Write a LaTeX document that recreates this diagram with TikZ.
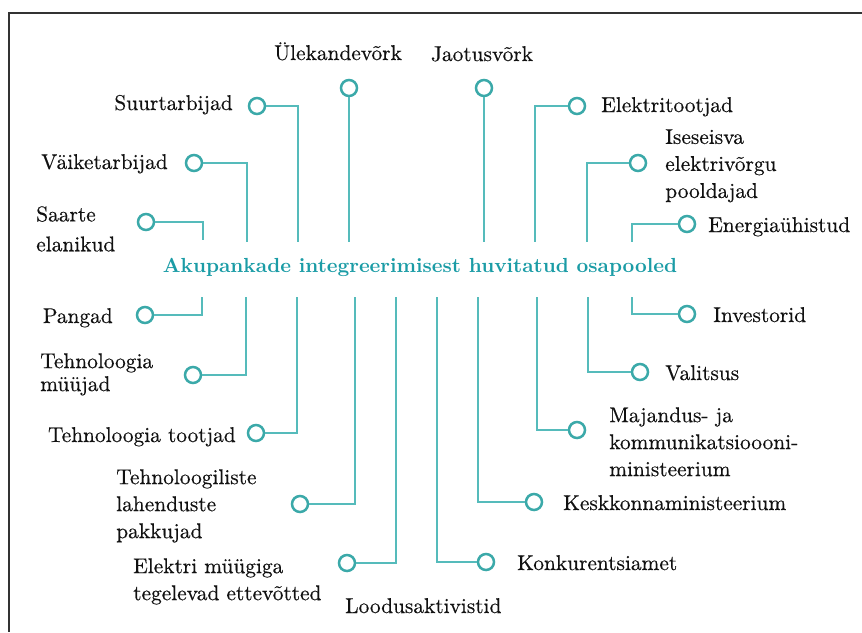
\documentclass[tikz,border=0pt]{standalone}
\usepackage{fontspec}
\setmainfont{lmroman10}[Extension=.otf, UprightFont=*-regular, BoldFont=*-bold, UprightFeatures={FakeBold=0.4}]
\definecolor{tealline}{HTML}{55BBBB}
\definecolor{tealring}{HTML}{3BA9A9}
\definecolor{tealtitle}{HTML}{1B9CA6}
\definecolor{partytext}{HTML}{111111}

\begin{document}
\begin{tikzpicture}[x=0.025cm, y=-0.025cm]
\tikzstyle{ring}=[circle, draw=tealring, line width=1.8pt, fill=white, minimum size=0.4cm, inner sep=0]
\tikzstyle{party}=[inner sep=0, text=partytext, font=\fontsize{15.2}{19.2}\selectfont]
\tikzstyle{link}=[draw=tealline, line width=1.5pt]
\tikzstyle{elbow}=[link, to path={-| (\tikztotarget)}]
%
\useasboundingbox (0,0) rectangle (862,632);
\draw [line width=1.3pt, black!80] (862,13) -- (9,13) -- (9,632);

\node [party, anchor=base, text=tealtitle, font=\fontsize{14.5}{19.2}\selectfont\bfseries] (title) at (420,272)
	{Akupankade integreerimisest huvitatud osapooled};

% ends of the connectors at the title
\coordinate (suurEnd) at (298,242);
\coordinate (vaikeEnd) at (247,242);
\coordinate (saarteEnd) at (203,240);
\coordinate (ulekEnd) at (349,242);
\coordinate (jaotusEnd) at (484,242);
\coordinate (tootjadEnd) at (535,242);
\coordinate (iseseisevEnd) at (587,242);
\coordinate (energiaEnd) at (632,242);
\coordinate (pangadEnd) at (202,297);
\coordinate (myyjadEnd) at (246,297);
\coordinate (tehTootjadEnd) at (297,297);
\coordinate (lahendusEnd) at (355,297);
\coordinate (myykEnd) at (396,297);
\coordinate (investEnd) at (632,297);
\coordinate (valitsusEnd) at (588,297);
\coordinate (majandusEnd) at (537,297);
\coordinate (keskkondEnd) at (478,297);
\coordinate (konkurentsEnd) at (437,297);

% upper half
\node [ring] (suur) at (257,106) {}
	edge [elbow] (suurEnd);
\node [party, anchor=base east] (suurTxt) at (233,110) {Suurtarbijad};
\node [ring] (vaike) at (194,163) {}
	edge [elbow] (vaikeEnd);
\node [party, anchor=base east] (vaikeTxt) at (168,169) {Väiketarbijad};
\node [ring] (saarte) at (146,222) {}
	edge [elbow] (saarteEnd);
\node [party, anchor=north west, align=left, font=\fontsize{15.2}{21.3}\selectfont] (saarteTxt) at (36,206) {Saarte\\elanikud};
\node [ring] (ulek) at (349,88) {}
	edge [link] (ulekEnd);
\node [party, anchor=base] (ulekTxt) at (338,60) {Ülekandevõrk};
\node [ring] (jaotus) at (484,88) {}
	edge [link] (jaotusEnd);
\node [party, anchor=base] (jaotusTxt) at (482,61) {Jaotusvõrk};
\node [ring] (tootjad) at (577,106) {}
	edge [elbow] (tootjadEnd);
\node [party, anchor=base west] (tootjadTxt) at (601,112) {Elektritootjad};
\node [ring] (iseseisev) at (638,163) {}
	edge [elbow] (iseseisevEnd);
\node [party, anchor=north west, align=left] (iseseisevTxt) at (665,129) {Iseseisva\\elektrivõrgu\\pooldajad};
\node [ring] (energia) at (687,224) {}
	edge [elbow] (energiaEnd);
\node [party, anchor=base west] (energiaTxt) at (708,232) {Energiaühistud};

% lower half
\node [ring] (pangad) at (145,315) {}
	edge [elbow] (pangadEnd);
\node [party, anchor=base east] (pangadTxt) at (113,323) {Pangad};
\node [ring] (myyjad) at (193,375) {}
	edge [elbow] (myyjadEnd);
\node [party, anchor=north west, align=left, font=\fontsize{15.2}{16.3}\selectfont] (myyjadTxt) at (40,353) {Tehnoloogia\\müüjad};
\node [ring] (tehTootjad) at (256,433) {}
	edge [elbow] (tehTootjadEnd);
\node [party, anchor=base east] (tehTootjadTxt) at (236,442) {Tehnoloogia tootjad};
\node [ring] (lahendus) at (300,504) {}
	edge [elbow] (lahendusEnd);
\node [party, anchor=north west, align=left] (lahendusTxt) at (116,469) {Tehnoloogiliste\\lahenduste\\pakkujad};
\node [ring] (myyk) at (347,563) {}
	edge [elbow] (myykEnd);
\node [party, anchor=north west, align=left] (myykTxt) at (133,558) {Elektri müügiga\\tegelevad ettevõtted};
\node [party, anchor=base west] (loodusTxt) at (345,613) {Loodusaktivistid};
\node [ring] (invest) at (687,314) {}
	edge [elbow] (investEnd);
\node [party, anchor=base west] (investTxt) at (713,322) {Investorid};
\node [ring] (valitsus) at (640,372) {}
	edge [elbow] (valitsusEnd);
\node [party, anchor=base west] (valitsusTxt) at (665,380) {Valitsus};
\node [ring] (majandus) at (577,430) {}
	edge [elbow] (majandusEnd);
\node [party, anchor=north west, align=left] (majandusTxt) at (609,407) {Majandus- ja\\kommunikatsioooni-\\ministeerium};
\node [ring] (keskkond) at (534,502) {}
	edge [elbow] (keskkondEnd);
\node [party, anchor=base west] (keskkondTxt) at (563,510) {Keskkonnaministeerium};
\node [ring] (konkurents) at (486,562) {}
	edge [elbow] (konkurentsEnd);
\node [party, anchor=base west] (konkurentsTxt) at (517,570) {Konkurentsiamet};
%
\end{tikzpicture}
\end{document}
